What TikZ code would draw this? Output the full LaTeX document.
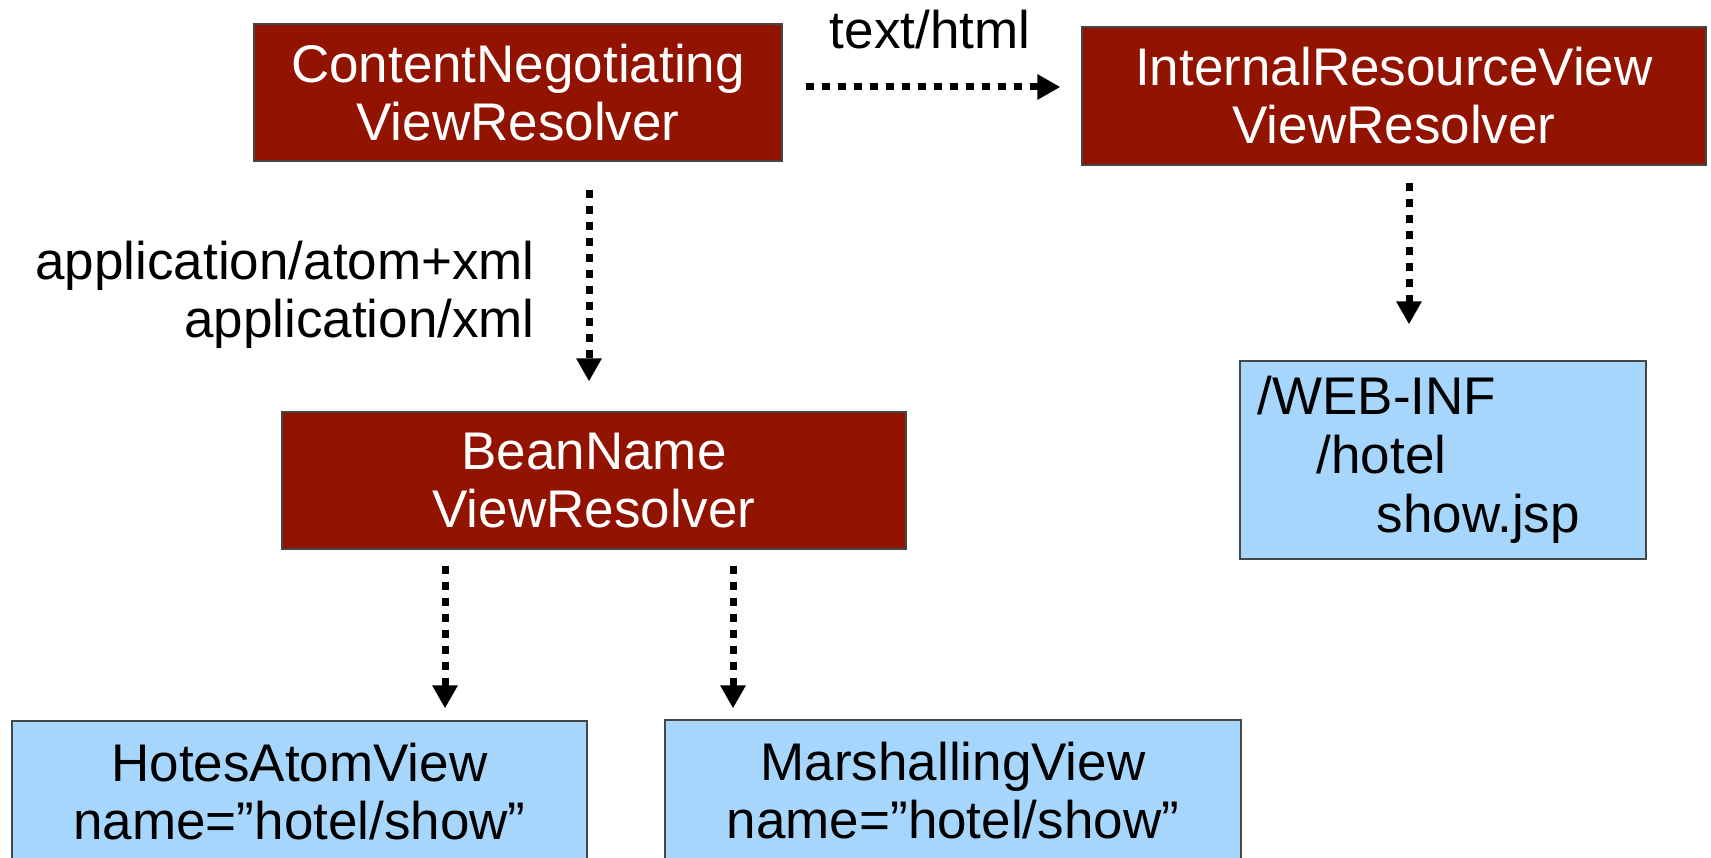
\documentclass[tikz,border=0pt]{standalone}
\usepackage{fontspec}
\setmainfont{Liberation Sans}
\usetikzlibrary{arrows.meta,calc}
\definecolor{boxred}{RGB}{146,19,0}
\definecolor{boxblue}{RGB}{167,214,252}
\definecolor{edgegray}{RGB}{70,70,70}
\begin{document}
\begin{tikzpicture}[x=1pt,y=-1pt,
  redbox/.style={draw=edgegray, line width=1.2pt, fill=boxred, text=white, align=center, inner sep=0pt, font=\fontsize{53}{58}\selectfont},
  bluebox/.style={draw=edgegray, line width=1.2pt, fill=boxblue, text=black, align=center, inner sep=0pt, font=\fontsize{53}{58}\selectfont},
  lbl/.style={inner sep=0pt, font=\fontsize{53}{58}\selectfont},
  flow/.style={line width=7pt, dash pattern=on 8pt off 8pt, -{Triangle[width=24pt,length=23pt]}}]
\useasboundingbox (0,0) rectangle (1711,858);
\clip (0,0) rectangle (1711,858);
\fill[white] (0,0) rectangle (1711,858);

\node[redbox, minimum width=528pt, minimum height=137pt] (cn) at (518,92.5) {ContentNegotiating\\ViewResolver};
\node[redbox, minimum width=624pt, minimum height=138pt] (irv) at (1394,96) {InternalResourceView\\ViewResolver};
\node[redbox, minimum width=624pt, minimum height=137pt] (bn) at (594,480.5) {BeanName\\ViewResolver};
\node[bluebox, minimum width=406pt, minimum height=198pt] (web) at (1443,460) {};
\node[lbl, anchor=west, align=left, font=\fontsize{53}{59}\selectfont] (webtext) at ([xshift=18pt]web.west) {/WEB-INF\\\hspace*{59pt}/hotel\\\hspace*{119pt}show.jsp};
\node[bluebox, minimum width=575pt, minimum height=141pt] (hotes) at (299.5,791.5) {HotesAtomView\\name=”hotel/show”};
\node[bluebox, minimum width=576pt, minimum height=142pt] (marsh) at (953,791) {MarshallingView\\name=”hotel/show”};

\node[lbl, anchor=base] (th) at (930,49) {text/html};
\node[lbl, anchor=east, align=right] (app) at (535,295) {application/atom+xml\\application/xml};

\coordinate (h1) at ([yshift=5.5pt]cn.east);
\draw[flow, shorten <=23pt, shorten >=21pt] (h1) -- (h1 -| irv.west);
\coordinate (v1) at ([xshift=71pt]cn.south);
\draw[flow, shorten <=28pt, shorten >=30pt] (v1) -- (v1 |- bn.north);
\coordinate (v2) at ([xshift=15pt]irv.south);
\draw[flow, shorten <=17pt, shorten >=36pt] (v2) -- (v2 |- web.north);
\coordinate (v3) at ([xshift=-149pt]bn.south);
\draw[flow, shorten <=16pt, shorten >=12pt] (v3) -- (v3 |- hotes.north);
\coordinate (v4) at ([xshift=139pt]bn.south);
\draw[flow, shorten <=16pt, shorten >=11pt] (v4) -- (v4 |- marsh.north);
\end{tikzpicture}
\end{document}
